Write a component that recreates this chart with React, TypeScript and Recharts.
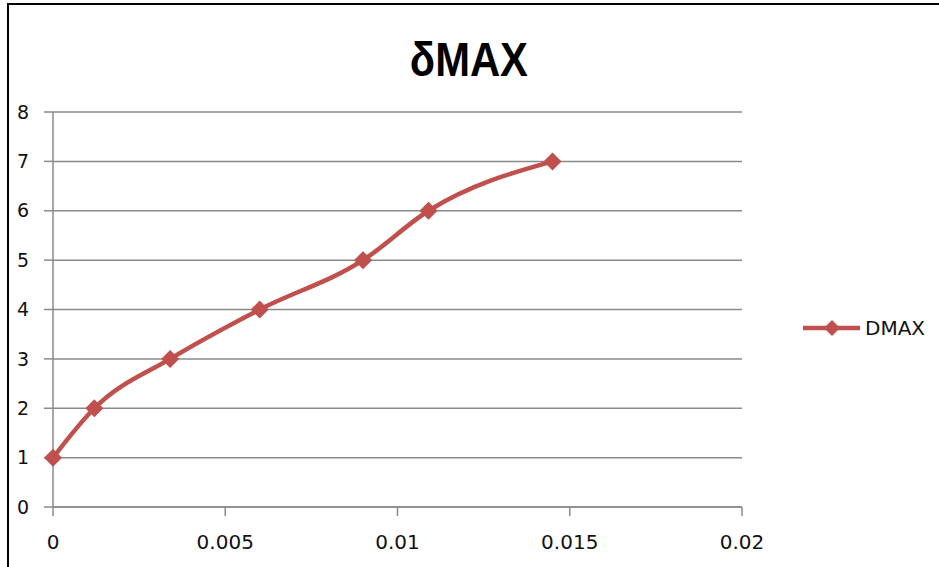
import React from 'react';
import { LineChart, Line, XAxis, YAxis, CartesianGrid } from 'recharts';

const seriesName = 'DMAX';
const titleText = 'δMAX';
const xValues = [0, 0.0012, 0.0034, 0.006, 0.009, 0.0109, 0.0145];
const dmaxValues = [1, 2, 3, 4, 5, 6, 7];
const xTicks = [0, 0.005, 0.01, 0.015, 0.02];
const yTicks = [0, 1, 2, 3, 4, 5, 6, 7, 8];

const data = xValues.map((x, i) => ({ x, dmax: dmaxValues[i] }));

const RED = '#C0504D';
const GRID = '#8a8a8a';

const Diamond = (props: any) => {
  const { cx, cy, index } = props;
  if (cx == null || cy == null) return null;
  const r = 9;
  return (
    <path
      key={`d-${index}`}
      d={`M${cx},${cy - r}L${cx + r},${cy}L${cx},${cy + r}L${cx - r},${cy}Z`}
      fill={RED}
      stroke="none"
    />
  );
};

export default function App() {
  return (
    <div
      style={{
        position: 'fixed',
        left: 0,
        top: 0,
        width: 939,
        height: 567,
        background: '#fff',
        overflow: 'hidden',
      }}
    >
      <div
        style={{
          position: 'absolute',
          left: 7,
          top: 3,
          width: 1000,
          height: 1000,
          border: '2px solid #000',
          boxSizing: 'border-box',
        }}
      />
      <div
        style={{
          position: 'absolute',
          left: 0,
          top: 30,
          width: 939,
          textAlign: 'center',
          fontFamily: '"Liberation Sans", Arial, sans-serif',
          fontWeight: 'bold',
          fontSize: 48,
          lineHeight: '60px',
          color: '#000',
        }}
      >
        <span style={{ display: 'inline-block', transform: 'scaleX(0.87)', marginLeft: -2 }}>{titleText}</span>
      </div>
      <div style={{ position: 'absolute', left: 0, top: 0 }}>
        <LineChart
          width={939}
          height={567}
          data={data}
          margin={{ top: 112, right: 197, bottom: 20, left: 0 }}
        >
          <CartesianGrid vertical={false} stroke={GRID} strokeWidth={1.5} />
          <XAxis
            dataKey="x"
            type="number"
            domain={[0, 0.02]}
            ticks={xTicks}
            interval={0}
            height={40}
            tickSize={9}
            tickMargin={19}
            stroke={GRID}
            strokeWidth={1.5}
            tick={{ fontFamily: '"DejaVu Sans", sans-serif', fontSize: 20, fill: '#111' }}
          />
          <YAxis
            type="number"
            domain={[0, 8]}
            ticks={yTicks}
            interval={0}
            width={53}
            tickSize={9}
            tickMargin={15}
            stroke={GRID}
            strokeWidth={1.5}
            tick={{ fontFamily: '"DejaVu Sans", sans-serif', fontSize: 19, fill: '#111' }}
          />
          <Line
            type="monotone"
            dataKey="dmax"
            name={seriesName}
            stroke={RED}
            strokeWidth={4.5}
            dot={Diamond}
            activeDot={false}
            isAnimationActive={false}
          />
        </LineChart>
      </div>
      <div
        style={{
          position: 'absolute',
          left: 800,
          top: 313,
          height: 30,
          display: 'flex',
          alignItems: 'center',
        }}
      >
        <svg width={64} height={30} style={{ display: 'block' }}>
          <line x1={3} y1={15} x2={60} y2={15} stroke={RED} strokeWidth={4.5} />
          <path d="M32,7L40,15L32,23L24,15Z" fill={RED} />
        </svg>
        <span
          style={{
            fontFamily: '"DejaVu Sans", sans-serif',
            fontSize: 20,
            color: '#111',
            marginLeft: 1,
          }}
        >
          {seriesName}
        </span>
      </div>
    </div>
  );
}
